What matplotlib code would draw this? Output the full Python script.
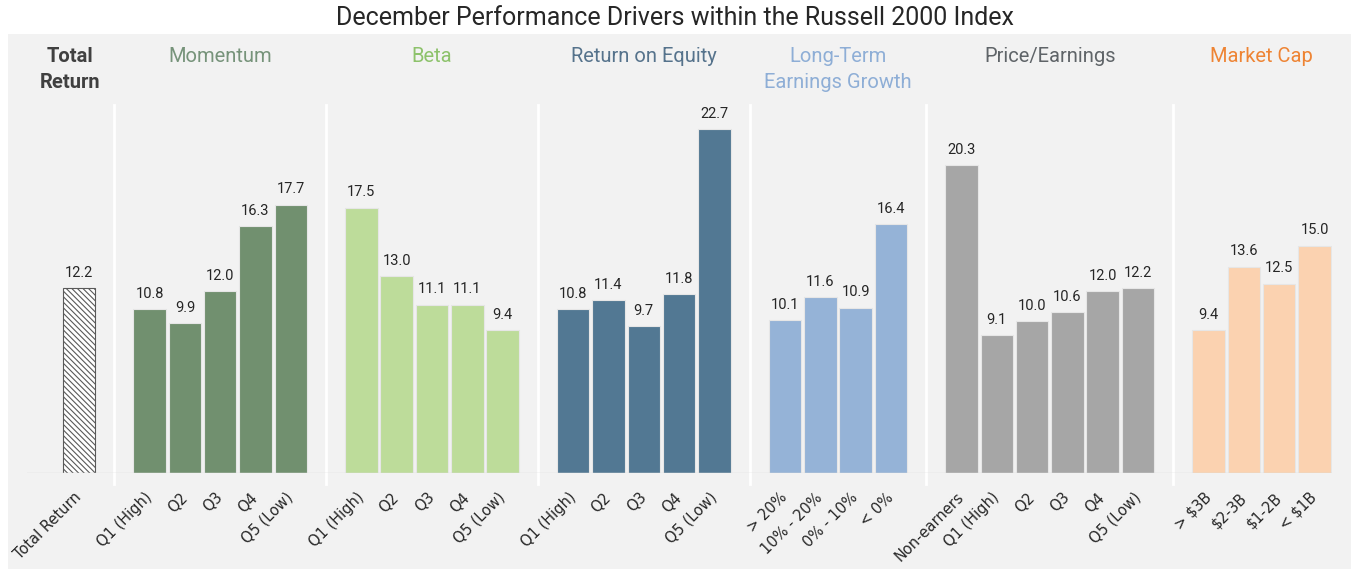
import numpy as np
import matplotlib.pyplot as plt
from matplotlib.patches import Rectangle

plt.rcParams['hatch.linewidth'] = 0.8

NARROW = ['Liberation Sans Narrow', 'Roboto', 'DejaVu Sans']

# data
total_label = ['Total Return']
total_value = [12.2]

momentum_labels = ['Q1 (High)', 'Q2', 'Q3', 'Q4', 'Q5 (Low)']
momentum_values = [10.8, 9.9, 12.0, 16.3, 17.7]

beta_labels = ['Q1 (High)', 'Q2', 'Q3', 'Q4', 'Q5 (Low)']
beta_values = [17.5, 13.0, 11.1, 11.1, 9.4]

roe_labels = ['Q1 (High)', 'Q2', 'Q3', 'Q4', 'Q5 (Low)']
roe_values = [10.8, 11.4, 9.7, 11.8, 22.7]

lteg_labels = ['> 20%', '10% - 20%', '0% - 10%', '< 0%']
lteg_values = [10.1, 11.6, 10.9, 16.4]

pe_labels = ['Non-earners', 'Q1 (High)', 'Q2', 'Q3', 'Q4', 'Q5 (Low)']
pe_values = [20.3, 9.1, 10.0, 10.6, 12.0, 12.2]

mcap_labels = ['> $3B', '$2-3B', '$1-2B', '< $1B']
mcap_values = [9.4, 13.6, 12.5, 15.0]

groups = [
    ('Total\nReturn', total_label, total_value, None, '#404040'),
    ('Momentum', momentum_labels, momentum_values, '#71906f', '#76937a'),
    ('Beta', beta_labels, beta_values, '#bddc9a', '#8dc26b'),
    ('Return on Equity', roe_labels, roe_values, '#527893', '#56738c'),
    ('Long-Term\nEarnings Growth', lteg_labels, lteg_values, '#95b3d7', '#8eaed6'),
    ('Price/Earnings', pe_labels, pe_values, '#a6a6a6', '#5f6468'),
    ('Market Cap', mcap_labels, mcap_values, '#fbd2b0', '#ee8434'),
]

W, H = 1351, 569
fig = plt.figure(figsize=(W / 100, H / 100), dpi=100)
fig.patches.append(Rectangle((8 / W, 0), 1, 1 - 34 / H, transform=fig.transFigure,
                             facecolor='#f2f2f2', edgecolor='none', zorder=-5))
fig.text(675 / W, 1 - 18 / H, 'December Performance Drivers within the Russell 2000 Index',
         ha='center', va='center', fontsize=18, color='#262626', family=NARROW)

# axes: bottom at baseline y=473, top at y=105
ax = fig.add_axes([27 / W, 1 - 473 / H, (1332 - 27) / W, (473 - 105) / H])
ax.set_facecolor('none')
slot = 35.3
ax.set_xlim((27 - 79) / slot, (1332 - 79) / slot)
ax.set_ylim(0, 368 / 15.16)

ticks, ticklabels = [], []
pos = 0
seps = []
for gi, (title, labels, values, color, tcolor) in enumerate(groups):
    xs = np.arange(pos, pos + len(values))
    if color is None:
        ax.bar(xs, values, width=0.92, facecolor='white', edgecolor='#595959',
               hatch='\\\\\\\\\\\\', linewidth=0.8, zorder=2)
    else:
        ax.bar(xs, values, width=0.92, color=color, edgecolor='#e6e6e6',
               linewidth=0.8, zorder=2)
    for x, v in zip(xs, values):
        ax.text(x, v + 0.55, f'{v:.1f}', ha='center', va='bottom', fontsize=10.5,
                color='#262626', family=NARROW)
    ticks.extend(xs)
    ticklabels.extend(labels)
    center = xs.mean()
    weight = 'bold' if gi == 0 else 'normal'
    ax.text(center - (0.25 if gi == 0 else 0), 1.0 + 58 / 368, title,
            transform=ax.get_xaxis_transform(),
            ha='center', va='top', fontsize=14.5, color=tcolor, fontweight=weight,
            family=NARROW, linespacing=1.45)
    pos += len(values)
    if gi < len(groups) - 1:
        seps.append(pos)
    pos += 1

for s in seps:
    ax.axvline(s, ymin=-11 / 368, ymax=1.0, color='white', linewidth=2, clip_on=False, zorder=1)

ax.axhline(0, color='#d9d9d9', linewidth=1, zorder=3)
ax.set_xticks(ticks)
ax.set_xticklabels(ticklabels, rotation=45, ha='right', va='center',
                   rotation_mode='anchor', fontsize=10.5, color='#262626')
ax.tick_params(axis='x', length=0, pad=16)
ax.set_yticks([])
for sp in ax.spines.values():
    sp.set_visible(False)

fig.savefig('out.png', dpi=100)
